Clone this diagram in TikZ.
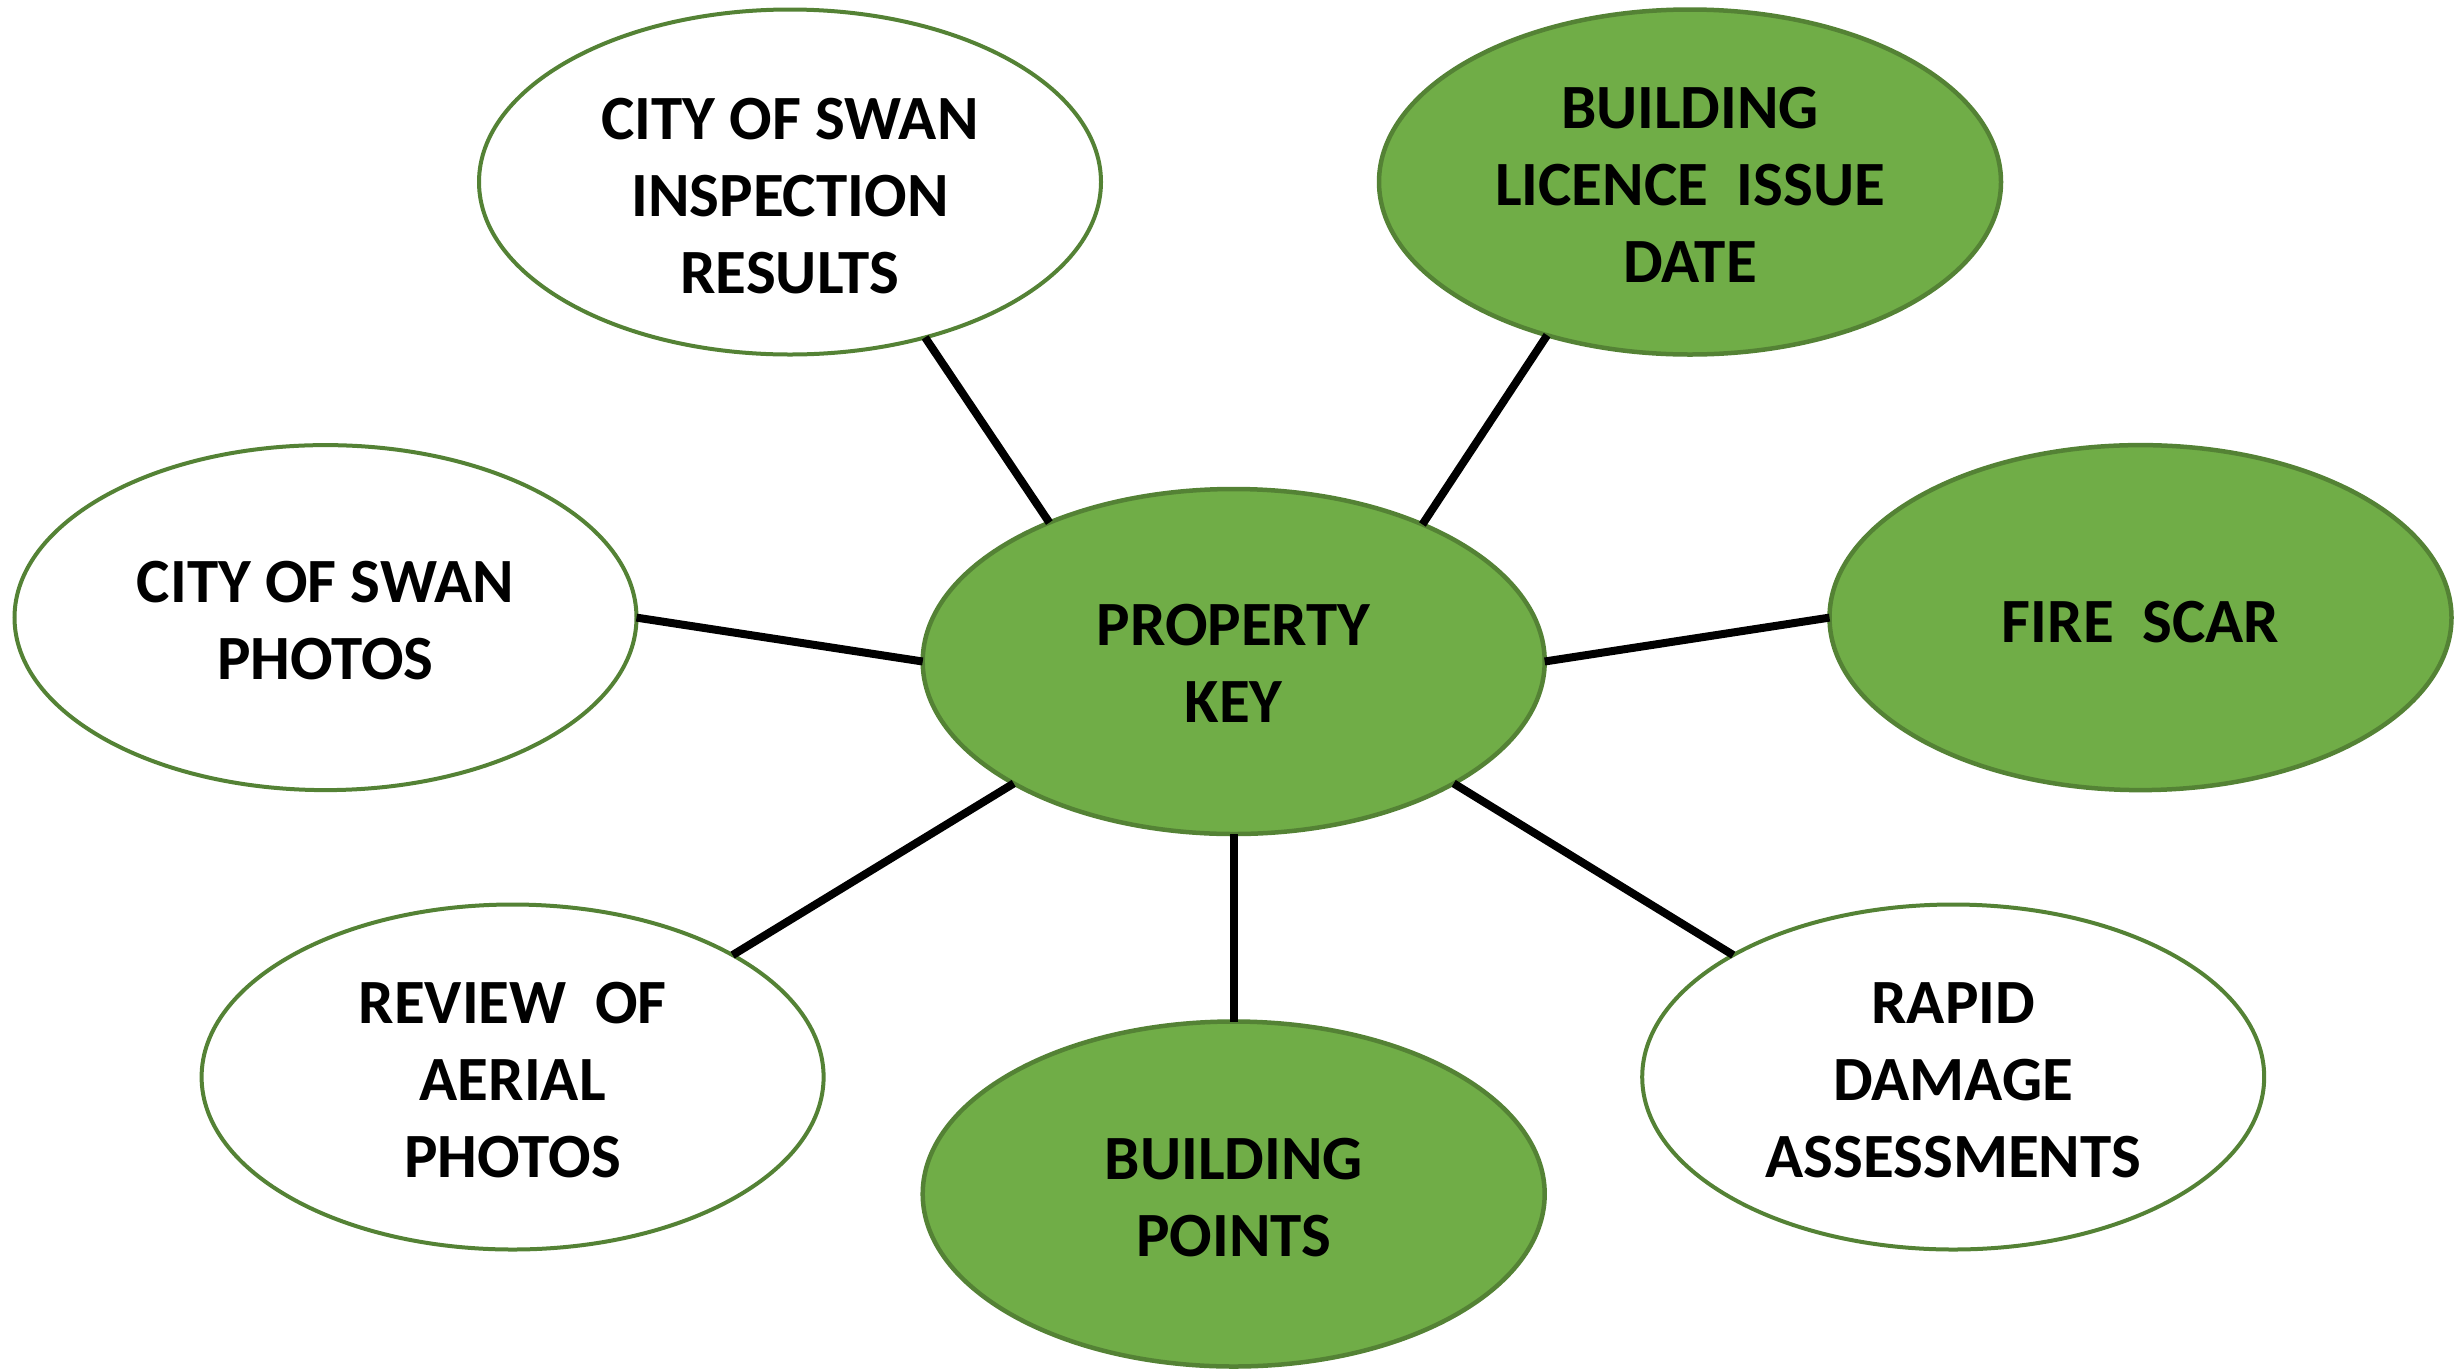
\documentclass[tikz,border=0pt]{standalone}
\usepackage{fontspec}
\setmainfont{Carlito}
\usetikzlibrary{shapes.geometric}
\definecolor{kgreen}{HTML}{70AD47}
\definecolor{kdark}{HTML}{548235}
\newcommand\bigfont{\fontsize{63}{77}\selectfont\bfseries}
\newcommand\dropby[2]{\sbox0{#2}\raisebox{-#1}[\ht0][\dp0]{\usebox0}}
\newcommand\lines[1]{\begin{tabular}{@{}c@{}}#1\end{tabular}}
\tikzset{
  ell/.style={ellipse, minimum width=622pt, minimum height=345pt, inner sep=0pt,
    outer sep=0pt, align=center, font=\bigfont},
  filled/.style={ell, fill=kgreen, draw=kdark, line width=4.5pt},
  plain/.style={ell, fill=white, draw=kdark, line width=4pt},
  conn/.style={line width=8pt, black}
}
\begin{document}
\begin{tikzpicture}[x=1pt,y=-1pt]
\useasboundingbox (0,0) rectangle (2458,1369);
\node[filled] (key) at (1233.7,661.5) {\dropby{7pt}{\lines{PROPERTY\\KEY}}};
\node[plain] (insp) at (790,182) {\dropby{19pt}{\lines{CITY OF SWAN\\INSPECTION\\RESULTS}}};
\node[filled] (lic) at (1690,182) {\dropby{8pt}{\lines{BUILDING\\LICENCE\ \ ISSUE\\DATE}}};
\node[plain] (photos) at (325.5,617.6) {\dropby{8pt}{\lines{CITY OF SWAN\\PHOTOS}}};
\node[filled] (fire) at (2140.5,617.6) {\dropby{4pt}{FIRE\ \ SCAR}};
\node[plain] (aerial) at (512.6,1077) {\dropby{8pt}{\lines{REVIEW\ \ OF\\AERIAL\\PHOTOS}}};
\node[filled] (bpoints) at (1233.7,1194) {\dropby{9pt}{\lines{BUILDING\\POINTS}}};
\node[plain] (rapid) at (1953.2,1077) {\dropby{8pt}{\lines{RAPID\\DAMAGE\\ASSESSMENTS}}};
\draw[conn] (insp.-49.4) -- (key.143.9);
\draw[conn] (lic.-133.5) -- (key.36);
\draw[conn] (photos.0) -- (key.180);
\draw[conn] (fire.180) -- (key.0);
\draw[conn] (aerial.29) -- (key.209);
\draw[conn] (bpoints.90) -- (key.-90);
\draw[conn] (rapid.151) -- (key.-29);
\end{tikzpicture}
\end{document}
